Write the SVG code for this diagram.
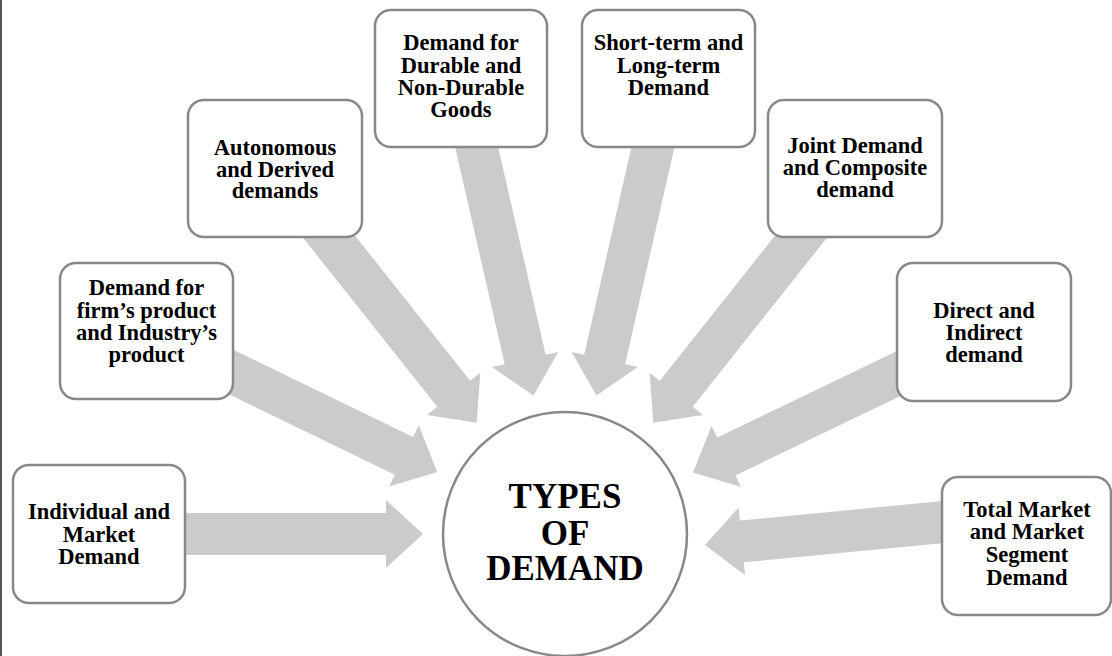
<svg xmlns="http://www.w3.org/2000/svg" width="1112" height="656" viewBox="0 0 1112 656">
  <style>
    .box { fill: #ffffff; stroke: #888888; stroke-width: 2.5; }
    .hub { fill: #ffffff; stroke: #888888; stroke-width: 2.5; }
    .lbl { font-family: "Liberation Serif", "Times New Roman", serif; font-weight: bold; font-size: 22.5px; fill: #000000; text-anchor: middle; }
    .hubtxt { font-family: "Liberation Serif", "Times New Roman", serif; font-weight: bold; font-size: 35px; fill: #000000; text-anchor: middle; }
    .arrow { fill: #cbcbcb; stroke: none; }
  </style>
  <defs>
    <!-- block arrow pointing right, tip at the origin -->
    <path id="blk" d="M-330,-21 H-37 V-34 L0,0 L-37,34 V21 H-330 Z"/>
  </defs>

  <rect width="1112" height="656" fill="#ffffff"/>
  <line x1="1" y1="0" x2="1" y2="656" stroke="#555555" stroke-width="2"/>

  <!-- connectors: wide block arrows running from each box towards the hub -->
  <g id="connectors" class="arrow">
    <use href="#blk" transform="translate(423,534) rotate(0)"/>
    <use href="#blk" transform="translate(437.2,472) rotate(25.88)"/>
    <use href="#blk" transform="translate(476.7,422.8) rotate(51.57)"/>
    <use href="#blk" transform="translate(533.4,395.6) rotate(77.14)"/>
    <use href="#blk" transform="translate(596.5,395.5) rotate(102.8)"/>
    <use href="#blk" transform="translate(653.3,422.8) rotate(128.43)"/>
    <use href="#blk" transform="translate(693,472.5) rotate(154.32)"/>
    <use href="#blk" transform="translate(705,545) rotate(174.5)"/>
  </g>

  <g id="hub">
    <circle class="hub" cx="565" cy="534" r="122"/>
    <text class="hubtxt" x="565" y="508">TYPES<tspan x="565" dy="37">OF</tspan><tspan x="565" dy="35">DEMAND</tspan></text>
  </g>

  <g id="individual-market">
    <rect class="box" x="13" y="465" width="172" height="138" rx="16"/>
    <text class="lbl" x="99" y="519.3">Individual and<tspan x="99" dy="22.4">Market</tspan><tspan x="99" dy="22.3">Demand</tspan></text>
  </g>

  <g id="firm-industry">
    <rect class="box" x="60" y="263" width="173" height="136" rx="16"/>
    <text class="lbl" x="146.5" y="295">Demand for<tspan x="146.5" dy="22.7">firm’s product</tspan><tspan x="146.5" dy="22.3">and Industry’s</tspan><tspan x="146.5" dy="22.3">product</tspan></text>
  </g>

  <g id="autonomous-derived">
    <rect class="box" x="188" y="100" width="174" height="137" rx="16"/>
    <text class="lbl" x="275" y="155">Autonomous<tspan x="275" dy="21.7">and Derived</tspan><tspan x="275" dy="21.6">demands</tspan></text>
  </g>

  <g id="durable-nondurable">
    <rect class="box" x="375" y="10" width="172" height="137" rx="16"/>
    <text class="lbl" x="461" y="50">Demand for<tspan x="461" dy="22.7">Durable and</tspan><tspan x="461" dy="22.3">Non-Durable</tspan><tspan x="461" dy="21.7">Goods</tspan></text>
  </g>

  <g id="short-long-term">
    <rect class="box" x="582" y="10" width="173" height="137" rx="16"/>
    <text class="lbl" x="668.5" y="50">Short-term and<tspan x="668.5" dy="22.7">Long-term</tspan><tspan x="668.5" dy="22.3">Demand</tspan></text>
  </g>

  <g id="joint-composite">
    <rect class="box" x="768" y="100" width="174" height="137" rx="16"/>
    <text class="lbl" x="855" y="153.3">Joint Demand<tspan x="855" dy="21.7">and Composite</tspan><tspan x="855" dy="21.7">demand</tspan></text>
  </g>

  <g id="direct-indirect">
    <rect class="box" x="897" y="263" width="174" height="138" rx="16"/>
    <text class="lbl" x="984" y="318.3">Direct and<tspan x="984" dy="21.7">Indirect</tspan><tspan x="984" dy="21.7">demand</tspan></text>
  </g>

  <g id="total-segment">
    <rect class="box" x="942" y="477" width="169" height="138" rx="16"/>
    <text class="lbl" x="1027" y="516.7">Total Market<tspan x="1027" dy="22.6">and Market</tspan><tspan x="1027" dy="22.4">Segment</tspan><tspan x="1027" dy="23.3">Demand</tspan></text>
  </g>
</svg>
